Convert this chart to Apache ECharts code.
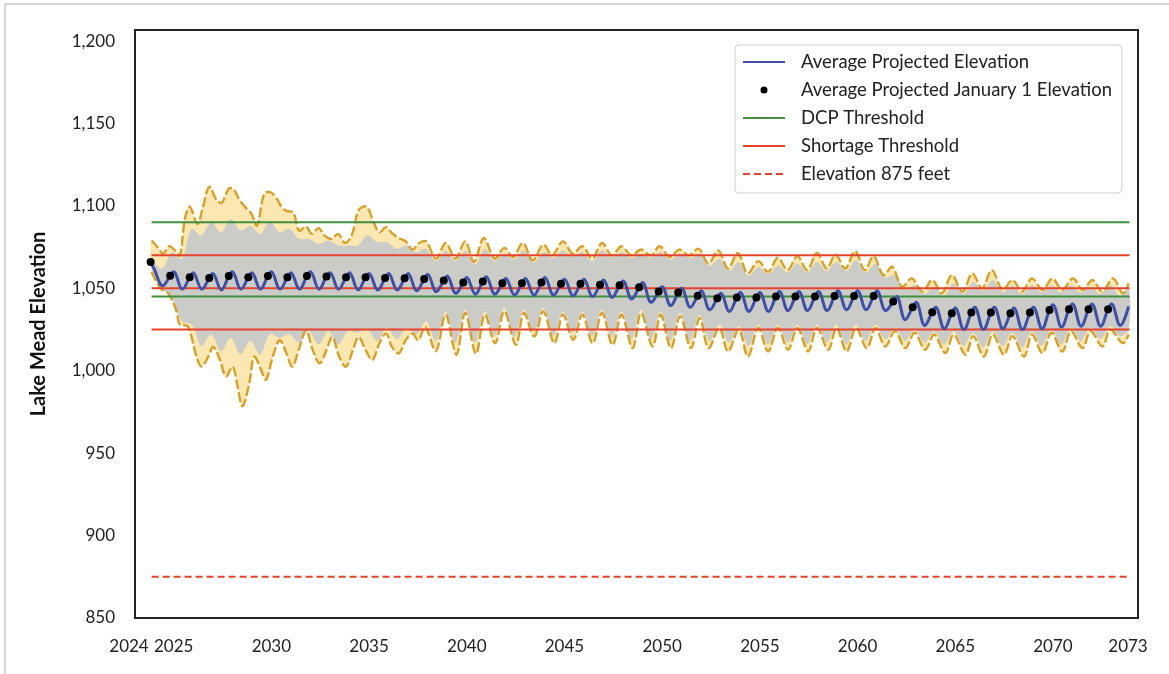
<!DOCTYPE html>
<html>
<head>
<meta charset="utf-8">
<title>Lake Mead Elevation</title>
<script src="https://cdn.jsdelivr.net/npm/echarts@6.0.0/dist/echarts.min.js"></script>
<style>
  html, body { margin: 0; padding: 0; background: #fff; }
  #main { width: 1169px; height: 674px; }
</style>
</head>
<body>
<div id="main"></div>
<script>
  // ---- data ----
  const years = [2024, 2025, 2026, 2027, 2028, 2029, 2030, 2031, 2032, 2033,
    2034, 2035, 2036, 2037, 2038, 2039, 2040, 2041, 2042, 2043,
    2044, 2045, 2046, 2047, 2048, 2049, 2050, 2051, 2052, 2053,
    2054, 2055, 2056, 2057, 2058, 2059, 2060, 2061, 2062, 2063,
    2064, 2065, 2066, 2067, 2068, 2069, 2070, 2071, 2072, 2073]

  // average January 1 elevation (black dots)
  const janElev = [1066, 1057.6, 1056.7, 1056.2, 1057.5, 1056.7, 1057.5, 1056.7, 1057.5, 1057.2,
    1056.7, 1056.7, 1056.2, 1056.1, 1055.7, 1054.7, 1053.5, 1054.1, 1053.1, 1053.1,
    1053.5, 1052.7, 1052.7, 1052.1, 1051.9, 1050.7, 1048.0, 1047.4, 1045.5, 1044.0,
    1044.4, 1044.4, 1045.0, 1045.0, 1045.0, 1045.4, 1045.4, 1045.4, 1042.0, 1038.5,
    1035.5, 1034.9, 1035.3, 1035.3, 1034.9, 1035.3, 1036.9, 1037.3, 1037.3, 1037.3]

  // average projected elevation: spring high and late summer low of each year
  const avgHigh = [1062, 1060, 1059.5, 1059, 1060, 1059.5, 1060, 1059.5, 1060, 1059.5,
    1059.5, 1059, 1059, 1059, 1058.5, 1057.5, 1056.5, 1057, 1056, 1056,
    1056.5, 1055.5, 1055.5, 1055, 1054.5, 1053.5, 1051, 1050, 1048.5, 1047,
    1047.5, 1047.5, 1048, 1048, 1048, 1048.5, 1048.5, 1048.5, 1045, 1041.5,
    1038.5, 1038, 1038.5, 1038.5, 1038, 1038.5, 1040, 1040.5, 1040.5, 1040.5]
  const avgLow = [1051.5, 1049.5, 1049.5, 1049, 1049.5, 1049.5, 1049.5, 1049.5, 1049.5, 1049.5,
    1049, 1049, 1049, 1048.5, 1048, 1047, 1046.5, 1046.5, 1046, 1046,
    1046, 1045.5, 1045, 1044.5, 1043.5, 1041.5, 1039.5, 1038.5, 1037, 1036,
    1036, 1036, 1036.5, 1036.5, 1036.5, 1037, 1037, 1036.5, 1031, 1027.5,
    1025.5, 1025, 1025, 1025.5, 1025, 1025.5, 1026.5, 1027, 1027, 1027.5]
  const avgLast = 1039

  // dense band of grey traces: top and bottom edge, high and low of each year
  const grayTopHi = [1066, 1072, 1086, 1090, 1092, 1088, 1090, 1086, 1080, 1079,
    1076, 1082, 1078, 1076, 1074, 1073, 1073, 1074, 1071, 1073,
    1072, 1073, 1072, 1073, 1072, 1071, 1072, 1071, 1070, 1068,
    1066, 1063, 1064, 1065, 1066, 1066, 1067, 1065, 1058, 1052,
    1051, 1053, 1054, 1055, 1052, 1052, 1052, 1052, 1051, 1052]
  const grayTopLo = [1062, 1068, 1082, 1084, 1085, 1083, 1084, 1080, 1077, 1076,
    1076, 1078, 1074, 1072, 1066.5, 1066.5, 1064.5, 1066.5, 1067.5, 1065.5,
    1068.5, 1069.5, 1066.5, 1068.5, 1068.5, 1068.5, 1067.5, 1068.5, 1063.5, 1060.5,
    1057.5, 1058.5, 1059.5, 1059.5, 1060.5, 1060.5, 1059.5, 1056.5, 1049.5, 1046.5,
    1045.5, 1046.5, 1048.5, 1047.5, 1046.5, 1047.5, 1047.5, 1047.5, 1046.5, 1045.5]
  const grayBotHi = [1061, 1044, 1028, 1022, 1020, 1018, 1022, 1022, 1024, 1024,
    1024, 1025, 1026, 1026, 1030, 1036, 1037, 1036, 1038, 1037,
    1038, 1036, 1036, 1037, 1036, 1037, 1036, 1035, 1034, 1028,
    1027, 1028, 1028, 1028, 1028, 1028, 1028, 1028, 1026, 1025,
    1024, 1024, 1023, 1024, 1023, 1024, 1025, 1026, 1026, 1027]
  const grayBotLo = [1050, 1030, 1015, 1012, 1010, 1010, 1020, 1017, 1016, 1016,
    1023, 1018, 1019, 1022, 1018, 1017, 1017, 1021, 1020, 1024,
    1021, 1023, 1021, 1020, 1019, 1019, 1018, 1018, 1018, 1017,
    1015, 1016, 1017, 1016, 1017, 1016, 1018, 1019, 1018, 1017,
    1016, 1015, 1014, 1015, 1014, 1015, 1016, 1018, 1019, 1021]
  const grayLast = [1050, 1025]

  // highest and lowest of all traces (gold outline)
  const envMax = [[2024.05, 1079], [2024.35, 1075], [2024.65, 1071], [2024.95, 1075.5], [2025.25, 1073], [2025.5, 1070],
    [2025.75, 1092], [2026.0, 1099.5], [2026.4, 1089], [2026.65, 1098], [2027.0, 1111.5], [2027.4, 1103],
    [2027.65, 1102], [2028.0, 1110.5], [2028.25, 1110], [2028.55, 1103.5], [2028.9, 1098.5], [2029.15, 1095.5],
    [2029.45, 1088], [2029.8, 1107], [2030.1, 1108.5], [2030.45, 1104.5], [2030.7, 1099.5], [2030.95, 1097],
    [2031.3, 1096], [2031.6, 1085], [2031.95, 1087.5], [2032.25, 1083], [2032.6, 1086.5], [2032.9, 1082],
    [2033.25, 1080], [2033.6, 1083], [2033.95, 1077.5], [2034.3, 1082.5], [2034.65, 1097.5], [2035.05, 1099.5],
    [2035.4, 1090.5], [2035.7, 1084], [2036.05, 1087], [2036.35, 1083.5], [2036.7, 1080.5], [2037.05, 1078.5],
    [2037.4, 1073.5], [2037.75, 1077.5], [2038.1, 1078.5], [2038.6, 1068],
    [2039.1, 1077.5], [2039.6, 1068], [2040.1, 1078.5], [2040.55, 1066], [2041.05, 1080.5], [2041.6, 1068],
    [2042.1, 1074.5], [2042.55, 1069], [2043.05, 1077.5], [2043.55, 1067], [2044.1, 1076.5], [2044.55, 1070],
    [2045.1, 1078.5], [2045.6, 1071], [2046.1, 1075.5], [2046.6, 1068], [2047.1, 1077.5], [2047.6, 1070],
    [2048.1, 1075.5], [2048.6, 1070], [2049.1, 1073.5], [2049.6, 1070], [2050.05, 1075.5], [2050.55, 1069],
    [2051.05, 1073.5], [2051.55, 1070], [2052.05, 1074], [2052.55, 1065], [2053.05, 1073], [2053.55, 1062],
    [2054.05, 1071.5], [2054.55, 1059], [2055.1, 1066.5], [2055.6, 1060], [2056.1, 1068.5], [2056.6, 1061],
    [2057.1, 1069.5], [2057.6, 1061], [2058.1, 1071.5], [2058.6, 1062], [2059.05, 1070.5], [2059.55, 1062],
    [2060.05, 1072.5], [2060.55, 1061], [2061.0, 1069.5], [2061.5, 1058], [2061.95, 1063], [2062.45, 1051],
    [2062.95, 1056], [2063.5, 1048], [2064.0, 1055], [2064.5, 1047], [2065.0, 1058], [2065.55, 1048],
    [2066.05, 1059], [2066.55, 1050], [2067.05, 1061], [2067.6, 1049], [2068.1, 1055], [2068.6, 1048],
    [2069.1, 1056], [2069.65, 1049], [2070.15, 1056], [2070.65, 1049], [2071.2, 1056], [2071.7, 1049],
    [2072.2, 1055], [2072.7, 1048], [2073.25, 1056], [2073.75, 1047], [2074.05, 1053]]
  const envMin = [[2024.05, 1060], [2024.5, 1050], [2024.9, 1047], [2025.3, 1037], [2025.5, 1028], [2025.9, 1027],
    [2026.35, 1008.5], [2026.6, 1002.5], [2026.95, 1008.5], [2027.2, 1014.5], [2027.55, 1006.5], [2027.85, 996.5],
    [2028.2, 1002.5], [2028.45, 990.5], [2028.7, 978.5], [2029.05, 992.5], [2029.3, 1008.5], [2029.65, 1000.5],
    [2029.9, 994.5], [2030.25, 1008.5], [2030.6, 1018.5], [2030.95, 1010.5], [2031.25, 1002.5], [2031.6, 1013.5],
    [2031.95, 1024.5], [2032.3, 1012.5], [2032.65, 1004.5], [2033.0, 1012.5], [2033.3, 1020.5], [2033.65, 1008.5],
    [2034.0, 1002.5], [2034.35, 1012.5], [2034.65, 1020.5], [2035.0, 1012.5], [2035.35, 1006.5], [2035.7, 1016.5],
    [2036.05, 1022.5], [2036.35, 1014.5], [2036.7, 1010.5], [2037.05, 1018.5], [2037.4, 1022.5], [2037.7, 1018.5],
    [2038.05, 1026.5], [2038.6, 1012],
    [2039.1, 1034], [2039.65, 1009.7], [2040.1, 1035], [2040.65, 1010.3], [2041.1, 1034], [2041.63, 1016.7],
    [2042.1, 1036], [2042.69, 1015.7], [2043.1, 1035], [2043.63, 1020.8], [2044.1, 1036], [2044.66, 1016.7],
    [2045.1, 1034], [2045.63, 1018.8], [2046.1, 1034], [2046.62, 1016.7], [2047.1, 1035], [2047.64, 1015.7],
    [2048.1, 1034], [2048.67, 1013.7], [2049.1, 1035], [2049.69, 1014.7], [2050.1, 1034], [2050.63, 1013.7],
    [2051.1, 1033], [2051.65, 1013.7], [2052.1, 1032], [2052.55, 1013.7], [2053.1, 1026], [2053.55, 1011.7],
    [2054.1, 1025], [2054.57, 1008.6], [2055.1, 1026], [2055.6, 1011.7], [2056.1, 1026], [2056.62, 1012.7],
    [2057.1, 1026], [2057.65, 1011.7], [2058.1, 1026], [2058.68, 1012.7], [2059.1, 1026], [2059.62, 1011.7],
    [2060.1, 1026], [2060.65, 1013.7], [2061.1, 1026], [2061.59, 1014.7], [2062.1, 1024], [2062.62, 1013.7],
    [2063.1, 1023], [2063.64, 1012.7], [2064.1, 1022], [2064.67, 1010.7], [2065.1, 1022], [2065.7, 1009.7],
    [2066.1, 1021], [2066.64, 1008.6], [2067.1, 1022], [2067.67, 1009.7], [2068.1, 1021], [2068.7, 1008.6],
    [2069.1, 1022], [2069.64, 1010.7], [2070.1, 1023], [2070.66, 1011.7], [2071.1, 1024], [2071.69, 1013.7],
    [2072.1, 1024], [2072.72, 1014.7], [2073.1, 1025], [2073.75, 1016.7], [2074.05, 1022]]

  const dcpLevels = [1090, 1045]
  const shortageLevels = [1070, 1050, 1025]
  const elev875 = 875
  const lineSpan = [2024.05, 2074.1]

  const yearTicks = ['2024', '2025', '2030', '2035', '2040', '2045', '2050', '2055', '2060', '2065', '2070', '2073']

  // ---- layout / style ----
  const FONT = 'Lato, "Open Sans", sans-serif'
  const X_MIN = 2023.2
  const X_MAX = 2074.53
  const Y_MIN = 850
  const Y_MAX = 1206.7   // frame sits a little above the 1,200 label
  const PEAK_AT = 0.17
  const LOW_AT = 0.62
  const HI_AT = 0.1
  const LO_AT = 0.6
  const END_AT = 2074.05
  const SMOOTH = 0.35
  const GRID = { left: 135, top: 30, right: 31, bottom: 56 }
  const YELLOW_FILL = '#fae7b2'
  const GOLD = '#d5a12a'
  const GREY = '#cbcbc8'

  function avgLine () {
    let pts = []
    years.forEach((y, i) => {
      pts.push([y, janElev[i]], [y + PEAK_AT, avgHigh[i]], [y + LOW_AT, avgLow[i]])
    })
    pts.push([END_AT, avgLast])
    return pts
  }
  function band (hi, lo, last) {
    let pts = []
    years.forEach((y, i) => {
      pts.push([y + HI_AT, hi[i]], [y + LO_AT, lo[i]])
    })
    pts.push([END_AT, last])
    return pts
  }
  // filled region between two traces, drawn through the axis scales
  function bandPolygon (upper, lower, color) {
    return {
      type: 'custom', silent: true, z: 1, clip: true, data: [upper[0]],
      renderItem: function (params, api) {
        let pts = upper.map(p => api.coord(p)).concat(lower.slice().reverse().map(p => api.coord(p)))
        return { type: 'polygon', shape: { points: pts, smooth: SMOOTH }, style: { fill: color } }
      }
    }
  }
  function edgeLine (data) {
    return {
      type: 'custom', silent: true, z: 3, clip: true, data: [data[0]],
      renderItem: function (params, api) {
        return {
          type: 'polyline',
          shape: { points: data.map(p => api.coord(p)), smooth: SMOOTH },
          style: { stroke: GOLD, lineWidth: 2.4, lineDash: [10, 3], fill: 'none' }
        }
      }
    }
  }
  function hline (name, level, color, type) {
    return {
      name: name, type: 'line', z: 4, symbol: 'none', silent: true,
      data: [[lineSpan[0], level], [lineSpan[1], level]],
      lineStyle: { color: color, width: 2, type: type || 'solid' },
      itemStyle: { color: color }
    }
  }

  let series = [
    bandPolygon(envMax, envMin, YELLOW_FILL),
    bandPolygon(band(grayTopHi, grayTopLo, grayLast[0]), band(grayBotHi, grayBotLo, grayLast[1]), GREY),
    edgeLine(envMax),
    edgeLine(envMin)
  ]
  dcpLevels.forEach(v => series.push(hline('DCP Threshold', v, '#3f8f3f')))
  shortageLevels.forEach(v => series.push(hline('Shortage Threshold', v, '#e5432c')))
  series.push(hline('Elevation 875 feet', elev875, '#e0452c', [7, 4]))
  series.push({
    name: 'Average Projected Elevation', type: 'line', z: 5, data: avgLine(), smooth: 0.4,
    symbol: 'none', silent: true,
    lineStyle: { color: '#3d4fa8', width: 3 }, itemStyle: { color: '#3d4fa8' }
  })
  series.push({
    name: 'Average Projected January 1 Elevation', type: 'scatter', z: 10, silent: true,
    data: years.map((y, i) => [y, janElev[i]]),
    symbolSize: 8, itemStyle: { color: '#000', opacity: 1 }
  })

  const noDot = { opacity: 0 }
  let chart = echarts.init(document.getElementById('main'))
  chart.setOption({
    animation: false,
    backgroundColor: '#fff',
    grid: { left: GRID.left, top: GRID.top, right: GRID.right, bottom: GRID.bottom },
    legend: {
      orient: 'vertical', left: 735, top: 45,
      data: [
        { name: 'Average Projected Elevation', itemStyle: noDot },
        { name: 'Average Projected January 1 Elevation', icon: 'circle' },
        { name: 'DCP Threshold', itemStyle: noDot },
        { name: 'Shortage Threshold', itemStyle: noDot },
        { name: 'Elevation 875 feet', itemStyle: noDot }
      ],
      itemWidth: 42, itemHeight: 7, itemGap: 8,
      padding: [7, 10, 9, 7],
      backgroundColor: '#fff', borderColor: '#cfcfcf', borderWidth: 1, borderRadius: 4,
      selectedMode: false,
      textStyle: { fontFamily: FONT, fontSize: 18.5, color: '#222', lineHeight: 20, padding: [0, 0, 0, 11] }
    },
    xAxis: {
      type: 'value', min: X_MIN, max: X_MAX,
      axisLine: { show: false }, axisTick: { show: false }, splitLine: { show: false },
      axisLabel: {
        customValues: [X_MIN].concat(yearTicks.slice(1, -1).map(Number), [X_MAX]),
        margin: 20, fontFamily: FONT, fontSize: 17, color: '#222', padding: [0, 0, 0, 7],
        formatter: function (v) {
          if (v <= X_MIN + 0.01) return '{s|' + yearTicks[0] + '}'
          if (v >= X_MAX - 0.01) return '{e|' + yearTicks[yearTicks.length - 1] + '}'
          return String(Math.round(v))
        },
        rich: {
          s: { fontFamily: FONT, fontSize: 17, color: '#222', padding: [0, 19, 0, 0] },
          e: { fontFamily: FONT, fontSize: 17, color: '#222', padding: [0, 27, 0, 0] }
        }
      }
    },
    yAxis: {
      type: 'value', min: Y_MIN, max: Y_MAX, interval: 50,
      name: 'Lake Mead Elevation', nameLocation: 'middle', nameGap: 86,
      nameTextStyle: { fontFamily: FONT, fontSize: 20, fontWeight: 'bold', color: '#111' },
      axisLine: { show: false }, axisTick: { show: false }, splitLine: { show: false },
      axisLabel: {
        margin: 20, fontFamily: FONT, fontSize: 17, color: '#222',
        formatter: function (v) {
          if (v % 50 !== 0) return ''
          return String(v).replace(/\B(?=(\d{3})+(?!\d))/g, ',')
        }
      }
    },
    graphic: [
      {
        type: 'rect', silent: true, z: 100,
        shape: { x: 5, y: 4, width: 1200, height: 700 },
        style: { fill: 'none', stroke: '#c9c9c9', lineWidth: 1.5 }
      },
      {
        type: 'rect', silent: true, z: 100,
        shape: { x: GRID.left, y: GRID.top, width: 1169 - GRID.left - GRID.right, height: 674 - GRID.top - GRID.bottom },
        style: { fill: 'none', stroke: '#222', lineWidth: 2 }
      }
    ],
    series: series
  })
</script>
</body>
</html>
